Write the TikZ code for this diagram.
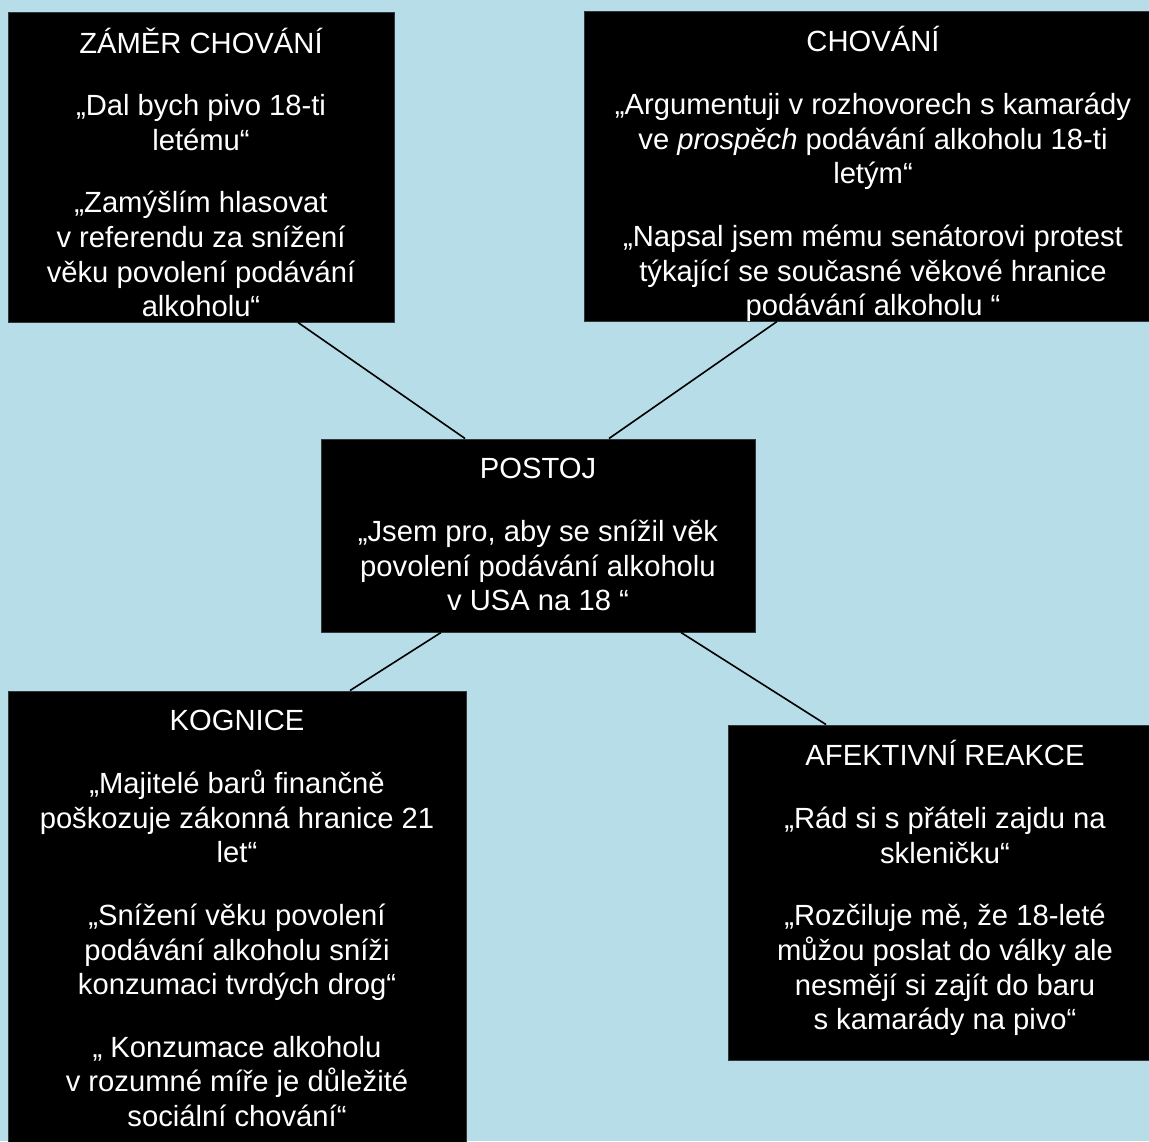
\documentclass[tikz,border=0pt]{standalone}
\usepackage{fontspec}
\setmainfont{Liberation Sans}
\definecolor{pozadi}{HTML}{B7DDE8}
\begin{document}
\begin{tikzpicture}[x=0.5pt, y=-0.5pt,
    box/.style={rectangle, fill=black, draw=black!75!pozadi, line width=0.5pt, inner sep=0pt},
    txt/.style={text=white, align=center, anchor=north, inner sep=0pt, font=\fontsize{14.6}{17.35}\selectfont},
    spoj/.style={line width=0.8pt}]
    \useasboundingbox (0,0) rectangle (1149,1141);
    \fill[pozadi] (0,0) rectangle (1149,1141);
    \clip (0,0) rectangle (1149,1141);

    \node[box, minimum width=193pt, minimum height=155pt] (zamer) at (201,167) {};
    \node[box, minimum width=289pt, minimum height=155pt] (chovani) at (873,166) {};
    \node[box, minimum width=217pt, minimum height=96.5pt] (postoj) at (538,535.5) {};
    \node[box, minimum width=229pt, minimum height=230pt] (kognice) at (237,921) {};
    \node[box, minimum width=217pt, minimum height=167.5pt] (afekt) at (945,892.5) {};

    \node[txt] (zamer-t) at ([yshift=-7.85pt]zamer.north) {\strut ZÁMĚR CHOVÁNÍ\\[13.9pt]
        „Dal bych pivo 18-ti\\ letému“\\[13.9pt]
        „Zamýšlím hlasovat\\ v referendu za snížení\\ věku povolení podávání\\ alkoholu“};
    \node[txt] (chovani-t) at ([yshift=-7.85pt]chovani.north) {\strut CHOVÁNÍ\\[13.9pt]
        „Argumentuji v rozhovorech s kamarády\\ ve \textit{prospěch} podávání alkoholu 18-ti\\ letým“\\[13.9pt]
        „Napsal jsem mému senátorovi protest\\ týkající se současné věkové hranice\\ podávání alkoholu “};
    \node[txt] (postoj-t) at ([yshift=-7.85pt]postoj.north) {\strut POSTOJ\\[13.9pt]
        „Jsem pro, aby se snížil věk\\ povolení podávání alkoholu\\ v USA na 18 “};
    \node[txt] (kognice-t) at ([yshift=-7.85pt]kognice.north) {\strut KOGNICE\\[13.9pt]
        „Majitelé barů finančně\\ poškozuje zákonná hranice 21\\ let“\\[13.9pt]
        „Snížení věku povolení\\ podávání alkoholu sníži\\ konzumaci tvrdých drog“\\[13.9pt]
        „ Konzumace alkoholu\\ v rozumné míře je důležité\\ sociální chování“};
    \node[txt] (afekt-t) at ([yshift=-7.85pt]afekt.north) {\strut AFEKTIVNÍ REAKCE\\[13.9pt]
        „Rád si s přáteli zajdu na\\ skleničku“\\[13.9pt]
        „Rozčiluje mě, že 18-leté\\ můžou poslat do války ale\\ nesmějí si zajít do baru\\ s kamarády na pivo“};

    \draw[spoj] ([xshift=48.5pt]zamer.south) -- ([xshift=-36.5pt]postoj.north);
    \draw[spoj] ([xshift=-48pt]chovani.south) -- ([xshift=35.5pt]postoj.north);
    \draw[spoj] ([xshift=-48.5pt]postoj.south) -- ([xshift=56.5pt]kognice.north);
    \draw[spoj] ([xshift=71.5pt]postoj.south) -- ([xshift=-59.5pt]afekt.north);
\end{tikzpicture}
\end{document}
